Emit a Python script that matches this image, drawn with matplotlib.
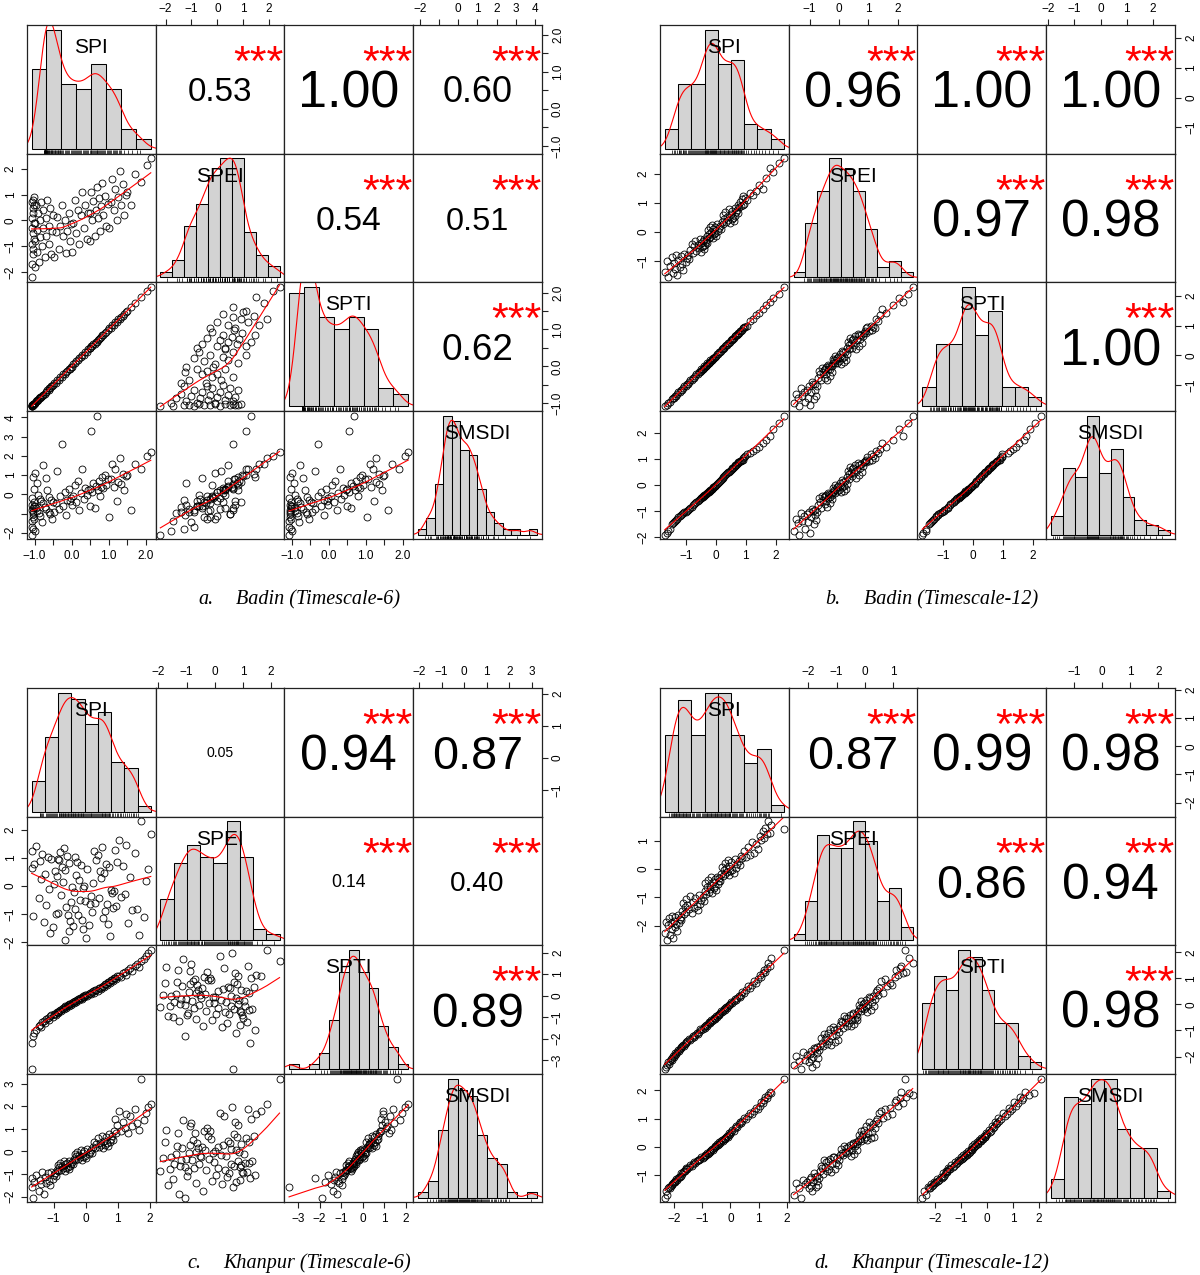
import numpy as np
import matplotlib
matplotlib.use("Agg")
import matplotlib.pyplot as plt
from matplotlib.transforms import offset_copy

plt.rcParams['font.family'] = ['Liberation Sans', 'DejaVu Sans']

VARS = ["SPI", "SPEI", "SPTI", "SMSDI"]

# ---------------- a. Badin (Timescale-6) ----------------
badin6_spi = [-1.06, -1.08, -1.03, -1.05, -1.07, -1.02, -1.04, -1.06, -1.01, -1.075, -1.035, -1.05, -1.025, -1.065, -1.045, -1.015,
              -0.99, -0.985, -0.98, -0.96, -0.94, -0.92, -0.9, -0.88, -0.86, -0.84, -0.82, -0.8, -0.78, -0.76, -0.73, -0.7,
              -0.68, -0.65, -0.62, -0.6, -0.57, -0.55, -0.53, -0.51,
              -0.47, -0.43, -0.39, -0.35, -0.31, -0.27, -0.23, -0.19, -0.15, -0.11, -0.08, -0.05, -0.02,
              0.01, 0.05, 0.09, 0.13, 0.17, 0.21, 0.25, 0.29, 0.33, 0.37, 0.41, 0.45,
              0.505, 0.51, 0.53, 0.56, 0.59, 0.62, 0.65, 0.68, 0.71, 0.74, 0.77, 0.8, 0.83, 0.86, 0.9, 0.94, 0.98,
              1.02, 1.06, 1.1, 1.14, 1.18, 1.22, 1.26, 1.3, 1.34, 1.38, 1.42, 1.46,
              1.505, 1.6, 1.72, 1.88, 2.04, 2.14]
badin6_spei = [-2.2, -1.7, -1.3, -1.1, -0.9, -0.7, -0.5, -0.3, -0.1, 0.1, 0.3, 0.5, 0.6, 0.7, 0.8, 0.9,
               -1.8, -0.8, -0.1, 0.6, -1.2, -0.35, 0.3, -1.6, -0.65, 0.0, 0.7, -1.0, -0.3, 0.4, -1.4, -0.6,
               0.1, 0.8, -0.9, -0.2, 0.5, -1.3, -0.4, 0.2,
               -1.4, -0.45, 0.15, -1.1, -0.2, 0.6, -0.6, 0.0, -1.25, -0.4, 0.3, -0.8, -0.15,
               -1.2, -0.1, 0.8, -0.5, 0.4, -0.9, 0.2, 1.1, -0.3, 0.6, -0.7, 0.3,
               -0.8, 0.3, 1.1, 0.0, 0.75, -0.6, 0.4, 1.3, 0.1, 0.85, -0.4, 0.55, 1.45, 0.2, 0.95, -0.2, 0.65,
               -0.3, 0.7, 1.6, 0.4, 1.2, 0.0, 0.9, 1.9, 0.6, 1.4, 0.2, 1.0,
               1.1, 0.6, 1.8, 1.5, 2.15, 2.4]
badin6_spti = [-1.065, -1.075, -1.035, -1.045, -1.065, -1.025, -1.045, -1.055, -1.012, -1.07, -1.03, -1.055, -1.02, -1.06, -1.05, -1.02,
               -1.005, -1.003, -1.001, -0.95, -0.95, -0.91, -0.91, -0.87, -0.87, -0.83, -0.83, -0.81, -0.77, -0.77, -0.74, -0.69,
               -0.69, -0.64, -0.63, -0.59, -0.58, -0.54, -0.54, -0.495,
               -0.46, -0.44, -0.38, -0.36, -0.3, -0.28, -0.22, -0.2, -0.14, -0.12, -0.07, -0.06, -0.015,
               -0.01, 0.06, 0.08, 0.14, 0.16, 0.22, 0.24, 0.3, 0.32, 0.38, 0.4, 0.46,
               0.495, 0.498, 0.54, 0.55, 0.6, 0.61, 0.66, 0.67, 0.72, 0.73, 0.78, 0.79, 0.84, 0.85, 0.91, 0.93, 0.99,
               1.03, 1.05, 1.11, 1.13, 1.19, 1.21, 1.27, 1.29, 1.35, 1.37, 1.43, 1.47,
               1.495, 1.61, 1.71, 1.89, 2.05, 2.15]
badin6_smsdi = [-2.1, -1.4, -1.8, -0.9, -1.7, -0.6, -1.2, -0.8, -1.3, -0.2, -0.7, -1.0, 0.3, -0.55, 0.9, -0.4,
                -1.9, -0.6, 1.1, -0.7, 0.6, -0.85, -0.05, -0.95, -0.25, -1.15, -0.35, -1.45, -0.45, 1.5, -0.65, 0.85,
                -0.75, 0.2, -0.9, -0.15, -1.05, -0.3, -1.3, -0.4,
                -0.9, -0.45, 1.2, -0.75, -0.1, 2.6, -0.6, 0.1, -1.1, -0.3, 0.3, -0.35, -0.2,
                -0.55, -0.1, 0.5, -0.4, 0.7, -0.8, 0.05, 1.3, -0.25, 0.35, -0.05, 0.2,
                -0.6, 0.3, 3.3, 0.1, 0.6, -0.7, 0.45, 4.1, 0.2, 0.7, -0.1, 0.4, 0.9, 0.35, 1.0, 0.5, 0.8,
                -1.2, 0.8, 1.6, 0.4, 1.3, -0.35, 0.65, 1.9, 0.55, 1.05, 0.2, 0.95,
                1.0, -0.8, 1.6, 1.3, 2.0, 2.2]
badin6_r = [0.53, 1.00, 0.60, 0.54, 0.51, 0.62]
badin6_stars = ["***", "***", "***", "***", "***", "***"]
badin6_bins = [(-1.5, 2.5), (-2.5, 2.5), (-1.5, 2.5), (-2.5, 4.5)]
badin6_ticks = [[-1.0, -0.5, 0.0, 0.5, 1.0, 1.5, 2.0], [-2, -1, 0, 1, 2],
                [-1.0, -0.5, 0.0, 0.5, 1.0, 1.5, 2.0], [-2, -1, 0, 1, 2, 3, 4]]
badin6_labels = [["−1.0", "", "0.0", "", "1.0", "", "2.0"], ["−2", "−1", "0", "1", "2"],
                 ["−1.0", "", "0.0", "", "1.0", "", "2.0"], ["−2", "", "0", "1", "2", "3", "4"]]

# ---------------- b. Badin (Timescale-12) ----------------
badin12_spi = [-1.72, -1.66, -1.6, -1.54, -1.48, -1.45, -1.41, -1.37, -1.33, -1.3,
               -1.26, -1.22, -1.18, -1.14, -1.1, -1.06, -1.02, -0.98, -0.94, -0.9,
               -0.86, -0.82, -0.78, -0.74, -0.7, -0.66, -0.62, -0.58, -0.55, -0.52,
               -0.49, -0.47, -0.45, -0.43, -0.41, -0.39, -0.37, -0.35, -0.33, -0.31,
               -0.29, -0.27, -0.25, -0.23, -0.21, -0.19, -0.17, -0.15, -0.13, -0.11,
               -0.09, -0.07, -0.05, -0.02, 0.01, 0.04, 0.07, 0.1, 0.13, 0.16,
               0.19, 0.22, 0.25, 0.28, 0.31, 0.34, 0.37, 0.4, 0.43, 0.46,
               0.49, 0.52, 0.55, 0.57, 0.6, 0.63, 0.65, 0.68, 0.7, 0.73,
               0.75, 0.78, 0.8, 0.83, 0.86, 0.89, 0.92, 0.95, 0.98, 1.05,
               1.15, 1.25, 1.35, 1.45, 1.56, 1.68, 1.8, 1.92, 2.1, 2.28]
badin12_spei = [-1.35, -0.98, -1.55, -1.15, -0.86, -1.4, -1.06, -1.25, -0.77, -1.45,
                -0.95, -1.2, -0.83, -1.1, -1.3, -0.74, -1.02, -0.89, -0.8, -0.92,
                -0.62, -0.41, -0.71, -0.49, -0.32, -0.65, -0.45, -0.55, -0.25, -0.68,
                -0.38, -0.52, -0.3, -0.47, -0.59, -0.23, -0.43, -0.34, -0.27, -0.36,
                -0.14, 0.06, -0.21, -0.05, 0.16, -0.16, 0.01, -0.1, 0.24, -0.19,
                0.09, -0.07, 0.19, -0.02, -0.12, 0.26, 0.04, 0.14, 0.21, 0.11,
                0.36, 0.58, 0.29, 0.46, 0.7, 0.34, 0.52, 0.41, 0.79, 0.31,
                0.61, 0.44, 0.73, 0.49, 0.39, 0.82, 0.55, 0.67, 0.76, 0.64,
                0.91, 0.85, 1.03, 0.88, 1.13, 0.94, 1.23, 0.97, 1.18, 1.08,
                1.34, 1.28, 1.4, 1.6, 1.46, 1.85, 2.2, 2.05, 2.35, 2.52]
badin12_spti = [-1.7, -1.67, -1.59, -1.56, -1.48, -1.43, -1.42, -1.36, -1.35, -1.3,
                -1.24, -1.23, -1.17, -1.16, -1.1, -1.04, -1.03, -0.97, -0.96, -0.9,
                -0.84, -0.83, -0.77, -0.76, -0.7, -0.64, -0.63, -0.57, -0.57, -0.52,
                -0.47, -0.48, -0.44, -0.45, -0.41, -0.37, -0.38, -0.34, -0.35, -0.31,
                -0.27, -0.28, -0.24, -0.25, -0.21, -0.17, -0.18, -0.14, -0.15, -0.11,
                -0.07, -0.08, -0.04, -0.04, -0.01, 0.06, 0.06, 0.11, 0.11, 0.16,
                0.21, 0.21, 0.26, 0.26, 0.31, 0.36, 0.36, 0.41, 0.41, 0.46,
                0.51, 0.51, 0.56, 0.55, 0.6, 0.65, 0.64, 0.69, 0.68, 0.73,
                0.77, 0.77, 0.81, 0.81, 0.86, 0.91, 0.91, 0.96, 0.96, 0.99,
                1.17, 1.24, 1.36, 1.43, 1.56, 1.7, 1.79, 1.93, 2.08, 2.3]
badin12_smsdi = [-1.9, -1.82, -1.75, -1.68, -1.49, -1.46, -1.41, -1.36, -1.33, -1.29,
                 -1.24, -1.2, -1.15, -1.11, -1.07, -1.04, -1.02, -1.01, -0.96, -0.91,
                 -0.87, -0.83, -0.78, -0.74, -0.69, -0.65, -0.61, -0.57, -0.54, -0.51,
                 -0.49, -0.47, -0.45, -0.43, -0.41, -0.39, -0.37, -0.35, -0.33, -0.31,
                 -0.29, -0.27, -0.25, -0.23, -0.21, -0.19, -0.17, -0.15, -0.13, -0.11,
                 -0.09, -0.07, -0.05, -0.03, -0.01, 0.03, 0.07, 0.11, 0.15, 0.19,
                 0.23, 0.27, 0.31, 0.35, 0.39, 0.43, 0.46, 0.49, 0.52, 0.55,
                 0.58, 0.61, 0.64, 0.67, 0.7, 0.73, 0.76, 0.79, 0.82, 0.85,
                 0.88, 0.9, 0.92, 0.94, 0.96, 0.98, 1.03, 1.08, 1.13, 1.18,
                 1.24, 1.3, 1.38, 1.46, 1.6, 1.75, 1.9, 2.15, 2.4, 2.67]
badin12_r = [0.96, 1.00, 1.00, 0.97, 0.98, 1.00]
badin12_stars = ["***", "***", "***", "***", "***", "***"]
badin12_bins = [(-2.0, 2.5), (-2.0, 3.0), (-2.0, 2.5), (-2.0, 3.0)]
badin12_ticks = [[-1, 0, 1, 2], [-1, 0, 1, 2], [-1, 0, 1, 2], [-2, -1, 0, 1, 2]]
badin12_labels = [["−1", "0", "1", "2"], ["−1", "0", "1", "2"], ["−1", "0", "1", "2"],
                  ["−2", "−1", "0", "1", "2"]]

# ---------------- c. Khanpur (Timescale-6) ----------------
khanpur6_spi = [-1.69, -1.67, -1.64, -1.6, -1.55, -1.47, -1.43, -1.39, -1.35, -1.31,
                -1.27, -1.23, -1.19, -1.15, -1.11, -1.07, -1.03, -0.98, -0.95, -0.93,
                -0.9, -0.88, -0.85, -0.82, -0.8, -0.77, -0.75, -0.72, -0.69, -0.66,
                -0.64, -0.61, -0.58, -0.56, -0.53, -0.51, -0.48, -0.45, -0.43, -0.4,
                -0.37, -0.35, -0.32, -0.29, -0.26, -0.24, -0.21, -0.18, -0.15, -0.13,
                -0.1, -0.07, -0.04, -0.02, 0.02, 0.05, 0.09, 0.12, 0.16, 0.19,
                0.23, 0.26, 0.3, 0.33, 0.37, 0.4, 0.44, 0.47, 0.52, 0.55,
                0.58, 0.61, 0.64, 0.67, 0.7, 0.73, 0.76, 0.79, 0.82, 0.85,
                0.88, 0.91, 0.94, 0.97, 1.03, 1.09, 1.15, 1.21, 1.27, 1.33,
                1.39, 1.45, 1.53, 1.6, 1.67, 1.74, 1.81, 1.88, 1.95, 2.03]
khanpur6_spei = [0.64, 1.26, -1.07, 0.77, 1.42, -0.41, 0.89, 0.25, 1.14, -1.27,
                 0.43, -0.68, 1.02, -0.09, -1.66, 0.98, -1.47, 0.06, 0.52, -0.98,
                 0.36, 0.95, -0.95, 0.91, 1.2, -0.3, 0.69, 0.13, 1.34, -1.93,
                 0.57, -0.74, 1.08, -1.04, -1.6, 0.82, -1.23, -0.56, -0.02, -1.43,
                 -0.2, 1.05, -0.8, 0.4, 0.87, -1.01, 0.21, -0.48, 0.74, -1.19,
                 -0.06, -1.54, 0.02, -0.53, -1.85, 0.59, -1.39, -0.65, -0.34, -0.92,
                 0.1, 1.23, -0.59, 0.93, 1.11, -0.44, 0.54, 0.28, 1.38, -1.15,
                 0.47, -0.89, 0.79, -0.62, -1.35, 0.67, -1.78, -0.13, -0.23, -0.77,
                 -0.16, 1.3, -0.71, 0.84, 1.65, -0.37, 0.72, -0.27, 1.47, -1.31,
                 0.32, -0.86, 1.17, -0.83, -1.72, 2.3, -1.11, 0.17, 0.62, 1.85]
khanpur6_spti = [-3.42, -2.2, -1.9, -1.75, -1.6, -1.4, -1.35, -1.45, -1.25, -1.2,
                 -1.3, -1.1, -1.05, -1.15, -0.95, -0.92, -0.98, -0.87, -0.84, -0.9,
                 -0.78, -0.76, -0.81, -0.7, -0.67, -0.73, -0.62, -0.59, -0.64, -0.53,
                 -0.51, -0.56, -0.47, -0.45, -0.49, -0.4, -0.38, -0.42, -0.33, -0.31,
                 -0.36, -0.27, -0.24, -0.29, -0.2, -0.18, -0.22, -0.13, -0.11, -0.15,
                 -0.06, -0.04, -0.09, 0.01, 0.04, -0.02, 0.09, 0.12, 0.06, 0.17,
                 0.2, 0.14, 0.26, 0.28, 0.23, 0.34, 0.36, 0.31, 0.42, 0.45,
                 0.39, 0.52, 0.55, 0.48, 0.61, 0.64, 0.58, 0.7, 0.73, 0.67,
                 0.8, 0.83, 0.76, 0.9, 0.93, 0.86, 1.03, 1.09, 0.96, 1.21,
                 1.27, 1.15, 1.39, 1.45, 1.33, 1.6, 1.72, 1.84, 1.96, 2.12]
khanpur6_smsdi = [-1.58, -1.19, -2.05, -1.35, -1.03, -1.75, -1.27, -1.43, -0.93, -1.9,
                  -1.15, -1.39, -0.98, -1.31, -1.47, -0.91, -1.23, -1.07, -0.96, -1.11,
                  -0.81, -0.61, -0.88, -0.71, -0.52, -0.83, -0.66, -0.76, -0.45, -0.86,
                  -0.58, -0.73, -0.51, -0.68, -0.78, -0.43, -0.63, -0.54, -0.48, -0.56,
                  -0.32, -0.11, -0.4, -0.22, -0.01, -0.35, -0.16, -0.27, 0.07, -0.38,
                  -0.09, -0.24, 0.02, -0.19, -0.3, 0.1, -0.14, -0.04, 0.05, -0.06,
                  0.21, 0.43, 0.13, 0.32, 0.57, 0.18, 0.38, 0.27, 0.7, 0.16,
                  0.46, 0.29, 0.62, 0.35, 0.24, 0.75, 0.4, 0.53, 0.66, 0.48,
                  0.92, 1.45, 0.79, 1.17, 1.79, 0.88, 1.31, 1.04, 1.63, 0.83,
                  1.55, 1.1, 1.87, 1.24, 0.96, 3.22, 1.38, 1.71, 1.95, 2.1]
khanpur6_r = [0.05, 0.94, 0.87, 0.14, 0.40, 0.89]
khanpur6_stars = ["", "***", "***", "***", "***", "***"]
khanpur6_bins = [(-2.0, 2.5), (-2.0, 2.5), (-3.5, 2.5), (-2.5, 3.5)]
khanpur6_ticks = [[-1, 0, 1, 2], [-2, -1, 0, 1, 2], [-3, -2, -1, 0, 1, 2], [-2, -1, 0, 1, 2, 3]]
khanpur6_labels = [["−1", "0", "1", "2"], ["−2", "−1", "0", "1", "2"],
                   ["−3", "−2", "−1", "0", "1", "2"], ["−2", "−1", "0", "1", "2", "3"]]

# ---------------- d. Khanpur (Timescale-12) ----------------
khanpur12_spi = [-2.33, -2.28, -2.24, -2.2, -2.17, -2.14, -2.11, -2.08, -2.06, -2.03,
                 -2.01, -1.98, -1.95, -1.92, -1.89, -1.86, -1.83, -1.8, -1.77, -1.74,
                 -1.71, -1.68, -1.65, -1.62, -1.59, -1.56, -1.53, -1.47, -1.42, -1.38,
                 -1.33, -1.29, -1.25, -1.2, -1.16, -1.11, -1.07, -1.03, -0.98, -0.95,
                 -0.92, -0.89, -0.86, -0.83, -0.8, -0.77, -0.74, -0.71, -0.68, -0.65,
                 -0.62, -0.59, -0.56, -0.53, -0.51, -0.48, -0.45, -0.42, -0.39, -0.36,
                 -0.33, -0.3, -0.27, -0.24, -0.21, -0.18, -0.15, -0.12, -0.09, -0.06,
                 -0.04, -0.02, 0.02, 0.06, 0.11, 0.15, 0.2, 0.24, 0.29, 0.33,
                 0.38, 0.42, 0.47, 0.55, 0.62, 0.69, 0.76, 0.83, 0.9, 0.97,
                 1.04, 1.09, 1.14, 1.19, 1.24, 1.29, 1.34, 1.39, 1.45, 1.9]
khanpur12_spei = [-2.25, -1.86, -2.52, -1.98, -1.74, -2.33, -1.92, -2.1, -1.65, -2.42,
                  -1.83, -2.04, -1.71, -1.95, -2.17, -1.62, -1.89, -1.77, -1.68, -1.8,
                  -1.48, -1.2, -1.59, -1.34, -1.06, -1.53, -1.27, -1.41, -0.94, -1.56,
                  -1.16, -1.37, -1.02, -1.3, -1.44, -0.91, -1.23, -1.09, -0.98, -1.13,
                  -0.77, -0.49, -0.87, -0.63, -0.38, -0.8, -0.56, -0.7, -0.3, -0.84,
                  -0.46, -0.66, -0.35, -0.59, -0.73, -0.27, -0.52, -0.41, -0.32, -0.43,
                  -0.16, 0.08, -0.24, -0.05, 0.22, -0.19, 0.02, -0.1, 0.32, -0.21,
                  0.12, -0.08, 0.25, -0.02, -0.13, 0.35, 0.05, 0.18, 0.28, 0.15,
                  0.45, 0.38, 0.63, 0.42, 0.79, 0.48, 0.95, 0.55, 0.87, 0.71,
                  1.16, 1.04, 1.34, 1.1, 1.46, 1.22, 1.68, 1.28, 1.56, 1.4]
khanpur12_spti = [-2.48, -2.4, -2.33, -2.22, -2.27, -2.17, -2.09, -2.13, -2.05, -1.98,
                  -2.02, -1.94, -1.86, -1.9, -1.82, -1.74, -1.78, -1.7, -1.64, -1.67,
                  -1.61, -1.55, -1.58, -1.52, -1.44, -1.48, -1.4, -1.32, -1.36, -1.28,
                  -1.2, -1.24, -1.16, -1.08, -1.12, -1.04, -0.96, -0.99, -0.93, -0.87,
                  -0.9, -0.84, -0.78, -0.81, -0.75, -0.69, -0.72, -0.66, -0.6, -0.63,
                  -0.58, -0.53, -0.56, -0.51, -0.45, -0.48, -0.42, -0.36, -0.39, -0.33,
                  -0.27, -0.3, -0.24, -0.18, -0.21, -0.15, -0.09, -0.12, -0.06, -0.02,
                  -0.04, 0.02, 0.1, 0.06, 0.14, 0.22, 0.18, 0.26, 0.34, 0.3,
                  0.38, 0.46, 0.42, 0.55, 0.69, 0.62, 0.76, 0.9, 0.83, 0.97,
                  1.12, 1.05, 1.19, 1.33, 1.26, 1.4, 1.6, 1.47, 1.8, 2.09]
khanpur12_smsdi = [-1.81, -1.58, -1.7, -1.48, -1.42, -1.45, -1.39, -1.33, -1.36, -1.3,
                   -1.24, -1.27, -1.21, -1.15, -1.18, -1.12, -1.06, -1.09, -1.03, -0.95,
                   -0.98, -0.91, -0.85, -0.88, -0.81, -0.75, -0.78, -0.71, -0.64, -0.68,
                   -0.61, -0.54, -0.58, -0.51, -0.46, -0.48, -0.43, -0.38, -0.41, -0.36,
                   -0.31, -0.33, -0.28, -0.23, -0.26, -0.21, -0.16, -0.18, -0.13, -0.08,
                   -0.11, -0.05, 0.01, -0.02, 0.04, 0.09, 0.06, 0.11, 0.16, 0.14,
                   0.19, 0.24, 0.21, 0.26, 0.31, 0.29, 0.34, 0.39, 0.36, 0.42,
                   0.48, 0.45, 0.52, 0.61, 0.56, 0.65, 0.74, 0.7, 0.79, 0.88,
                   0.83, 0.92, 1.03, 0.97, 1.09, 1.21, 1.15, 1.27, 1.39, 1.33,
                   1.45, 1.6, 1.54, 1.66, 1.78, 1.72, 1.84, 1.96, 1.9, 2.42]
khanpur12_r = [0.87, 0.99, 0.98, 0.86, 0.94, 0.98]
khanpur12_stars = ["***", "***", "***", "***", "***", "***"]
khanpur12_bins = [(-2.5, 2.0), (-3.0, 2.0), (-2.5, 2.5), (-2.0, 2.5)]
khanpur12_ticks = [[-2, -1, 0, 1, 2], [-2, -1, 0, 1], [-2, -1, 0, 1, 2], [-1, 0, 1, 2]]
khanpur12_labels = [["−2", "−1", "0", "1", "2"], ["−2", "−1", "0", "1"],
                    ["−2", "−1", "0", "1", "2"], ["−1", "0", "1", "2"]]

W, H = 1200.0, 1275.0
CELL_W, CELL_H = 128.75, 128.6
PAIR = {(0, 1): 0, (0, 2): 1, (0, 3): 2, (1, 2): 3, (1, 3): 4, (2, 3): 5}


def lowess(x, y, f=2 / 3, iters=3):
    o = np.argsort(x, kind="mergesort")
    x, y = x[o], y[o]
    n = len(x)
    r = int(np.ceil(f * n))
    h = np.array([np.sort(np.abs(x - xi))[r - 1] for xi in x])
    h[h == 0] = 1e-9
    w = np.clip(np.abs(x[None, :] - x[:, None]) / h[:, None], 0, 1)
    w = (1 - w ** 3) ** 3
    fit = np.zeros(n)
    rob = np.ones(n)
    for _ in range(iters + 1):
        for k in range(n):
            wk = w[k] * rob
            sw = wk.sum()
            if sw <= 0:
                continue
            mx = (wk * x).sum() / sw
            my = (wk * y).sum() / sw
            sxx = (wk * (x - mx) ** 2).sum()
            b = (wk * (x - mx) * (y - my)).sum() / sxx if sxx > 1e-12 else 0.0
            fit[k] = my + b * (x[k] - mx)
        res = y - fit
        s = np.median(np.abs(res))
        if s < 1e-12:
            break
        u = np.clip(res / (6 * s), -1, 1)
        rob = (1 - u ** 2) ** 2
    return x, fit


def density(x, adjust=0.8):
    n = len(x)
    iqr = np.subtract(*np.percentile(x, [75, 25]))
    bw = 0.9 * min(x.std(ddof=1), iqr / 1.34) * n ** -0.2 * adjust
    g = np.linspace(x.min() - 3 * bw, x.max() + 3 * bw, 512)
    d = np.exp(-0.5 * ((g[:, None] - x[None, :]) / bw) ** 2).sum(1) / (n * bw * np.sqrt(2 * np.pi))
    return g, d


def put_text(ax, fx, fy, s, fs, rise, **kw):
    tr = offset_copy(ax.transAxes, fig=ax.figure, x=0, y=-rise * fs, units="points")
    ax.text(fx, fy, s, transform=tr, ha="center", va="baseline", fontsize=fs,
            clip_on=True, **kw)


def draw_panel(fig, x0, y0, cols, r_vals, stars, bins, ticks, labels):
    arrs = [np.asarray(c, float) for c in cols]
    lims = []
    for a in arrs:
        pad = 0.04 * (a.max() - a.min())
        lims.append((a.min() - pad, a.max() + pad))
    big = 37.5
    for i in range(4):
        for j in range(4):
            ax = fig.add_axes([(x0 + j * CELL_W) / W, 1 - (y0 + (i + 1) * CELL_H) / H,
                               CELL_W / W, CELL_H / H])
            for sp in ax.spines.values():
                sp.set_linewidth(0.9)
                sp.set_color("#222222")
            ax.set_xticks([])
            ax.set_yticks([])
            if i == j:
                x = arrs[i]
                lo, hi = bins[i]
                edges = np.arange(lo, hi + 0.01, 0.5)
                dens, _ = np.histogram(x, bins=edges, density=True)
                ax.hist(x, bins=edges, density=True, color="#d3d3d3",
                        edgecolor="black", linewidth=0.75)
                top = dens.max()
                span = edges[-1] - edges[0]
                ax.set_xlim(edges[0] - 0.04 * span, edges[-1] + 0.04 * span)
                ax.set_ylim(-0.04 * top, 1.04 * top)
                gx, gy = density(x)
                ax.plot(gx, gy, color="red", lw=0.8)
                ax.vlines(x, -0.04 * top, -0.04 * top + 0.0324 * top, color="black", lw=0.5)
                put_text(ax, 0.5, 0.84, VARS[i], 15, 0.358, color="black")
                continue
            ax.set_xlim(lims[j])
            ax.set_ylim(lims[i])
            if i > j:
                ax.plot(arrs[j], arrs[i], "o", mfc="none", mec="black", ms=5, mew=0.6)
                lx, ly = lowess(arrs[j], arrs[i])
                ax.plot(lx, ly, color="red", lw=0.8)
            else:
                k = PAIR[(i, j)]
                r = r_vals[k]
                fs = big * (abs(r) + 0.3) / 1.3
                put_text(ax, 0.5, 0.5, f"{r:.2f}", fs, 0.358, color="black")
                if stars[k]:
                    put_text(ax, 0.8, 0.8, stars[k], 31, 0.57, color="red")
            if i == 0 and j % 2 == 1:
                ax.set_xticks(ticks[j])
                ax.set_xticklabels(labels[j])
                ax.tick_params(axis="x", top=True, bottom=False, labeltop=True, labelbottom=False)
            if i == 3 and j % 2 == 0:
                ax.set_xticks(ticks[j])
                ax.set_xticklabels(labels[j])
            if j == 0 and i % 2 == 1:
                ax.set_yticks(ticks[i])
                ax.set_yticklabels(labels[i], rotation=90, va="center")
            if j == 3 and i % 2 == 0:
                ax.set_yticks(ticks[i])
                ax.set_yticklabels(labels[i], rotation=90, va="center")
                ax.tick_params(axis="y", right=True, left=False, labelright=True, labelleft=False)
            ax.tick_params(direction="out", length=4.3, width=0.8, pad=3, labelsize=8.5,
                           color="#222222")


fig = plt.figure(figsize=(12, 12.75), dpi=100)

panels = [
    ([badin6_spi, badin6_spei, badin6_spti, badin6_smsdi], badin6_r, badin6_stars,
     badin6_bins, badin6_ticks, badin6_labels, 26.8, 25.0, "a.", "Badin (Timescale-6)", 198, 236, 600),
    ([badin12_spi, badin12_spei, badin12_spti, badin12_smsdi], badin12_r, badin12_stars,
     badin12_bins, badin12_ticks, badin12_labels, 660.0, 25.0, "b.", "Badin (Timescale-12)", 825, 864, 600),
    ([khanpur6_spi, khanpur6_spei, khanpur6_spti, khanpur6_smsdi], khanpur6_r, khanpur6_stars,
     khanpur6_bins, khanpur6_ticks, khanpur6_labels, 26.8, 688.0, "c.", "Khanpur (Timescale-6)", 187, 223, 1263),
    ([khanpur12_spi, khanpur12_spei, khanpur12_spti, khanpur12_smsdi], khanpur12_r, khanpur12_stars,
     khanpur12_bins, khanpur12_ticks, khanpur12_labels, 660.0, 688.0, "d.", "Khanpur (Timescale-12)", 814, 851, 1263),
]

for cols, r_vals, stars, bins, ticks, labels, x0, y0, tag, cap, tx, cx, cy in panels:
    draw_panel(fig, x0, y0, cols, r_vals, stars, bins, ticks, labels)
    fig.text(tx / W, 1 - cy / H, tag, family="Liberation Serif", style="italic",
             fontsize=14.5, ha="left", va="center")
    fig.text(cx / W, 1 - cy / H, cap, family="Liberation Serif", style="italic",
             fontsize=14.5, ha="left", va="center")

fig.savefig("out.png", dpi=100, facecolor="white")
